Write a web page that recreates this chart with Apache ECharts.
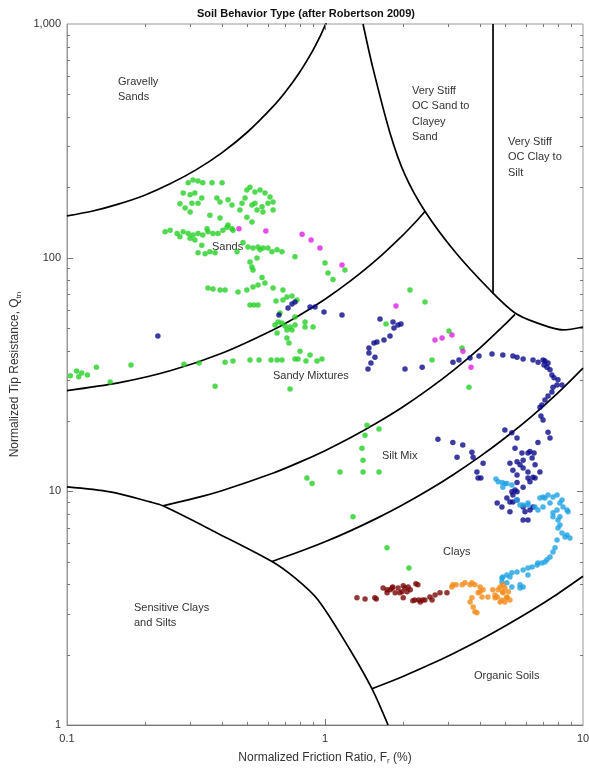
<!DOCTYPE html>
<html>
<head>
<meta charset="utf-8">
<script src="https://cdn.jsdelivr.net/npm/echarts@6/dist/echarts.min.js"></script>
<style>
  html, body { margin: 0; padding: 0; background: #fff; }
  #chart { width: 589px; height: 769px; }
</style>
</head>
<body>
<div id="chart"></div>
<script>
// tick marks (log axes)
const xTicks = [0.2, 0.3, 0.4, 0.5, 0.6, 0.7, 0.8, 0.9, 1, 2, 3, 4, 5, 6, 7, 8, 9];
const yTicks = [2, 3, 4, 5, 6, 7, 8, 9, 10, 20, 30, 40, 50, 60, 70, 80, 90, 100, 200, 300, 400, 500, 600, 700, 800, 900];

// zone boundaries [Fr, Qtn]
const bGravelly = [[0.1, 150.9], [0.126, 158.4], [0.158, 169.5], [0.2, 185.1], [0.251, 207], [0.316, 237.5], [0.398, 281], [0.501, 345], [0.631, 445], [0.708, 518], [0.794, 617], [0.891, 760], [0.955, 880], [1.0, 984], [1.012, 1013]];
const bSands = [[0.1, 27.0], [0.158, 29.1], [0.251, 32.8], [0.398, 39.0], [0.631, 49.2], [0.794, 56.6], [1.0, 66.4], [1.259, 79.7], [1.585, 98.0], [1.995, 124.3], [2.239, 141.8], [2.44, 157.7]];
const bSandyMix = [[0.2355, 8.67], [0.316, 9.37], [0.398, 10.06], [0.631, 11.98], [0.794, 13.3], [1.0, 14.93], [1.259, 16.98], [1.585, 19.59], [1.995, 22.9], [2.512, 27.3], [3.162, 33.1], [3.981, 41.0], [5.01, 52.1], [5.45, 57.2]];
const bSiltMix = [[0.623, 5.01], [0.794, 5.51], [1.0, 6.08], [1.259, 6.79], [1.585, 7.66], [1.995, 8.74], [2.512, 10.1], [3.162, 11.84], [3.981, 14.07], [5.01, 17.0], [6.31, 20.9], [7.94, 26.2], [10, 33.7]];
const bOrganic = [[1.52, 1.43], [1.995, 1.61], [2.512, 1.80], [3.162, 2.03], [3.981, 2.31], [5.01, 2.66], [6.31, 3.09], [7.94, 3.63], [10, 4.33]];
const bSensitive = [[0.1, 10.44], [0.147, 9.94], [0.21, 9.01], [0.2355, 8.67], [0.3815, 6.64], [0.623, 5.01], [0.765, 4.26], [0.94, 3.43], [1.25, 2.10], [1.52, 1.43], [1.755, 1.0]];
const bStiff = [[1.404, 1000], [1.53, 655], [1.786, 342], [2.042, 226], [2.44, 158], [3.19, 106], [4.36, 72.7], [5.45, 58.0], [6.63, 52.6], [8.36, 49.1], [10, 50.5]];
const bStiffSplit = [[4.48, 1000], [4.48, 70]];

// measured points [Fr, Qtn]
const greenPts = [[0.295,209],[0.308,215],[0.322,213],[0.336,209],[0.365,209],[0.399,209],[0.282,189],[0.300,186],[0.313,189],[0.333,180],[0.322,171],[0.305,171],[0.274,170],[0.287,163],[0.300,157],[0.381,180],[0.392,173],[0.421,177],[0.436,168],[0.468,160],[0.358,152],[0.392,148],[0.421,138],[0.440,131],[0.512,200],[0.498,195],[0.490,180],[0.535,191],[0.560,195],[0.585,189],[0.612,182],[0.629,173],[0.601,171],[0.570,165],[0.535,171],[0.521,168],[0.545,160],[0.575,157],[0.629,160],[0.477,171],[0.498,149],[0.521,142],[0.240,129],[0.251,131],[0.267,127],[0.282,129],[0.295,127],[0.308,125],[0.322,127],[0.336,125],[0.352,129],[0.368,127],[0.385,127],[0.402,131],[0.417,135],[0.436,133],[0.313,119],[0.333,113],[0.349,133],[0.274,123],[0.300,121],[0.322,105],[0.343,104],[0.358,106],[0.375,105],[0.456,106],[0.481,116],[0.503,111],[0.526,110],[0.550,111],[0.575,110],[0.560,108],[0.601,110],[0.623,106],[0.652,108],[0.681,106],[0.545,99.7],[0.512,95.8],[0.521,91.2],[0.526,88.6],[0.570,82.2],[0.585,78.0],[0.550,76.4],[0.526,74.9],[0.498,72.7],[0.460,71.3],[0.410,72.7],[0.392,72.7],[0.368,73.4],[0.352,74.1],[0.629,74.1],[0.687,72.7],[0.745,68.5],[0.765,101],[1.0,94.9],[1.027,85.9],[1.074,80.6],[0.512,62.7],[0.530,62.7],[0.550,62.7],[0.646,65.2],[0.687,65.9],[0.669,58.0],[0.658,53.0],[0.640,51.5],[0.681,52.5],[0.700,51.0],[0.732,50.5],[0.765,51.5],[0.652,47.6],[0.712,49.0],[0.745,49.0],[0.837,53.0],[0.837,50.5],[0.899,50.5],[0.712,45.3],[0.725,43.1],[0.712,67.8],[0.779,65.9],[0.765,55.7],[0.103,31.2],[0.109,32.7],[0.111,30.9],[0.114,32.1],[0.120,31.5],[0.130,34.0],[0.147,29.4],[0.177,34.7],[0.284,35.0],[0.325,35.4],[0.410,35.7],[0.440,36.1],[0.512,36.5],[0.555,36.5],[0.618,36.5],[0.652,36.5],[0.681,36.5],[0.765,36.8],[0.786,36.8],[0.844,36.1],[0.875,38.3],[0.931,36.1],[0.973,36.8],[0.800,39.8],[0.732,27.4],[0.375,28.2],[2.135,72.7],[2.441,64.6],[1.724,52.0],[3.024,48.5],[3.397,41.1],[2.600,36.5],[3.615,27.9],[1.455,19.2],[1.429,17.4],[1.619,18.5],[1.391,15.3],[1.404,13.6],[1.143,12.1],[1.404,12.1],[1.619,12.1],[1.284,7.78],[0.851,11.4],[0.891,10.8],[1.739,5.73],[2.115,4.70],[1.195,88.6]];
const magentaPts = [[0.464,133],[0.590,130],[0.815,126],[0.883,119],[0.956,110],[1.164,93.0],[1.884,62.1],[2.669,44.4],[2.842,45.3],[3.105,46.7],[3.425,39.8],[3.681,34.0]];
const navyPts = [[0.225,46.2],[0.663,56.8],[0.719,60.9],[0.745,63.3],[0.765,64.6],[0.875,61.5],[0.915,61.5],[0.991,58.5],[1.164,56.8],[1.634,54.6],[1.835,53.0],[1.918,51.5],[1.970,52.0],[1.851,50.0],[1.786,46.2],[1.693,44.4],[1.590,43.6],[1.548,43.1],[1.480,41.1],[1.480,39.1],[1.562,37.5],[1.507,35.4],[1.468,33.4],[2.042,33.4],[2.380,34.0],[3.133,35.7],[3.306,36.5],[3.648,37.2],[3.953,37.9],[4.44,38.7],[4.89,38.3],[5.35,37.9],[5.55,37.5],[5.86,36.8],[6.40,36.5],[6.70,35.7],[7.00,36.5],[7.12,36.1],[7.32,35.4],[7.06,34.7],[7.25,34.0],[7.45,33.1],[7.58,31.5],[7.72,30.6],[8.00,30.0],[8.29,28.5],[7.93,28.5],[7.65,27.9],[7.58,26.6],[7.32,25.6],[7.12,24.6],[6.93,23.4],[6.81,22.9],[6.87,21.0],[7.00,20.2],[7.32,17.9],[7.45,16.9],[6.69,16.2],[5.30,17.8],[4.98,18.3],[5.55,16.9],[5.45,15.3],[5.80,14.6],[6.12,14.6],[6.23,14.8],[6.46,14.6],[6.35,13.9],[5.86,13.6],[5.55,13.4],[5.70,13.0],[5.86,12.6],[6.12,12.1],[6.52,13.0],[6.81,12.1],[5.21,13.2],[5.35,12.3],[5.55,11.75],[6.12,11.4],[6.40,11.5],[6.52,11.4],[6.23,11.0],[5.55,10.9],[5.86,10.4],[5.55,9.95],[5.45,10.14],[5.30,9.95],[5.35,9.65],[5.07,9.37],[5.21,9.01],[5.35,9.01],[5.55,9.19],[5.86,8.58],[4.65,8.92],[4.85,8.58],[5.21,8.17],[5.96,8.17],[6.23,8.33],[6.40,8.58],[5.86,7.54],[6.12,7.54],[2.74,16.7],[3.13,16.2],[3.42,15.8],[3.25,14.0],[3.71,14.7],[3.75,14.0],[4.10,13.2],[3.88,12.1],[3.92,11.4],[4.02,11.4]];
const lightBluePts = [[4.60,11.3],[4.86,10.9],[5.07,10.8],[5.30,10.65],[4.69,11.0],[4.98,10.8],[4.89,10.4],[5.55,9.19],[5.70,8.75],[5.86,8.75],[6.12,8.75],[6.52,8.58],[6.81,9.37],[7.00,9.46],[7.32,9.65],[7.65,9.46],[7.93,9.65],[8.29,9.19],[7.45,8.92],[8.37,8.58],[8.67,8.33],[7.93,8.33],[7.65,8.09],[8.14,7.78],[8.00,7.54],[8.14,7.18],[7.00,8.58],[6.69,8.33],[6.12,8.92],[7.12,9.37],[8.14,8.92],[8.75,8.17],[7.65,7.78],[8.29,6.64],[8.52,6.38],[8.90,6.32],[7.93,6.19],[7.79,5.73],[7.65,5.50],[7.45,5.24],[7.25,5.09],[6.93,4.94],[6.64,4.84],[6.35,4.75],[6.12,4.70],[5.86,4.61],[5.55,4.52],[5.30,4.48],[5.07,4.39],[4.89,4.30],[4.85,4.09],[5.07,4.06],[5.30,3.90],[5.70,3.98],[5.86,3.90],[8.00,6.97],[8.67,6.51],[7.12,4.99],[6.69,4.94],[5.21,4.30],[4.85,4.26],[5.70,3.86],[6.12,4.39]];
const orangePts = [[3.10,3.90],[3.22,3.98],[3.40,3.98],[3.65,3.98],[3.81,3.98],[3.99,3.90],[4.10,3.79],[3.92,3.68],[4.06,3.53],[3.65,3.36],[3.75,3.20],[3.81,3.05],[3.88,3.02],[4.28,3.53],[4.56,3.60],[4.69,3.79],[4.77,3.90],[4.89,3.72],[5.07,3.53],[5.21,3.43],[4.98,3.36],[4.77,3.36],[4.56,3.50],[3.13,3.98],[3.49,4.06],[3.71,4.06],[3.99,3.72],[3.71,3.50],[4.89,3.98],[4.98,3.86],[5.14,3.72],[4.89,3.68],[4.65,3.53],[5.07,3.50],[4.85,3.43],[4.47,3.79]];
const darkRedPts = [[1.33,3.50],[1.43,3.46],[1.56,3.50],[1.68,3.86],[1.79,3.79],[1.83,3.90],[1.92,3.86],[2.01,3.94],[2.10,3.90],[2.29,3.98],[1.95,3.68],[2.08,3.72],[2.23,3.43],[2.34,3.36],[2.44,3.43],[2.55,3.53],[2.67,3.60],[2.79,3.68],[2.97,3.68],[1.74,3.68],[1.58,3.46],[1.74,3.79],[1.82,3.86],[2.04,3.86],[2.14,3.79],[1.99,3.72],[1.87,3.68],[2.25,4.02],[2.01,3.50],[2.19,3.40],[2.31,3.43],[2.39,3.43],[2.60,3.43]];

const FONT = '"Liberation Sans", Arial, Helvetica, sans-serif';

function boundary(data) {
    return { type: 'line', data: data, symbol: 'none', smooth: 0.3, silent: true, z: 2,
        lineStyle: { color: '#000', width: 1.7 } };
}
function points(data, color) {
    return { type: 'scatter', data: data, symbol: 'circle', symbolSize: 5.5, silent: true, z: 3,
        itemStyle: { color: color } };
}
function zoneText(text, left, top) {
    return { type: 'text', left: left, top: top, silent: true,
        style: { text: text, fill: '#333', fontSize: 11, fontFamily: FONT, lineHeight: 15.5 } };
}

var chart = echarts.init(document.getElementById('chart'));

chart.setOption({
    animation: false,
    backgroundColor: '#fff',
    grid: { left: 67, right: 6, top: 24, bottom: 44, containLabel: false, outerBoundsMode: 'none',
        show: true, borderColor: '#999', borderWidth: 1 },
    xAxis: {
        type: 'log', logBase: 10, min: 0.1, max: 10,
        axisLine: { show: true, lineStyle: { color: '#777' } },
        axisTick: { show: false }, splitLine: { show: false },
        axisLabel: { fontSize: 11, color: '#333', fontFamily: FONT, margin: 8 },
        name: 'Normalized Friction Ratio, F{sub|r} (%)',
        nameLocation: 'middle', nameGap: 25,
        nameTextStyle: { fontSize: 12, color: '#333', fontFamily: FONT,
            rich: { sub: { fontSize: 8, fontFamily: FONT, color: '#333', padding: [7, 0, 0, 0] } } }
    },
    yAxis: {
        type: 'log', logBase: 10, min: 1, max: 1000,
        axisLine: { show: true, lineStyle: { color: '#999' } },
        axisTick: { show: false }, splitLine: { show: false },
        axisLabel: { fontSize: 11, color: '#333', fontFamily: FONT, margin: 6,
            formatter: function (v) { return v >= 1000 ? '1,000' : String(v); } },
        name: 'Normalized Tip Resistance, Q{sub|tn}',
        nameLocation: 'middle', nameGap: 44,
        nameTextStyle: { fontSize: 12, color: '#333', fontFamily: FONT,
            rich: { sub: { fontSize: 8, fontFamily: FONT, color: '#333', padding: [7, 0, 0, 0] } } }
    },
    graphic: [
        { type: 'text', left: 197, top: 8, silent: true,
          style: { text: 'Soil Behavior Type (after Robertson 2009)', fill: '#111', fontSize: 11, fontWeight: 'bold', fontFamily: FONT } },
        zoneText('Gravelly\nSands', 118, 74),
        zoneText('Very Stiff\nOC Sand to\nClayey\nSand', 412, 83),
        zoneText('Very Stiff\nOC Clay to\nSilt', 508, 134),
        zoneText('Sands', 212, 239),
        zoneText('Sandy Mixtures', 273, 368),
        zoneText('Silt Mix', 382, 448),
        zoneText('Clays', 443, 544),
        zoneText('Sensitive Clays\nand Silts', 134, 600),
        zoneText('Organic Soils', 474, 668)
    ],
    series: [
        boundary(bGravelly),
        boundary(bSands),
        boundary(bSandyMix),
        boundary(bSiltMix),
        boundary(bOrganic),
        boundary(bSensitive),
        boundary(bStiff),
        Object.assign(boundary(bStiffSplit), { smooth: false }),
        points(greenPts, '#26d126'),
        points(magentaPts, '#e020e0'),
        points(navyPts, '#0a0a8c'),
        points(lightBluePts, '#1ea2e4'),
        points(orangePts, '#f58a18'),
        points(darkRedPts, '#7a0606'),
        {
            // minor and major ticks, drawn inside on all four sides
            type: 'custom', silent: true, z: 4,
            data: xTicks.map(v => [v, 1]).concat(yTicks.map(v => [0.1, v])),
            renderItem: function (params, api) {
                const cs = params.coordSys;
                const x = api.value(0), y = api.value(1);
                const isX = y === 1;
                const v = isX ? x : y;
                const lg = Math.log10(v);
                const len = Math.abs(lg - Math.round(lg)) < 1e-6 ? 6 : 3;
                const style = { stroke: '#777', lineWidth: 1 };
                if (isX) {
                    const px = Math.round(api.coord([x, 1])[0]) + 0.5;
                    return { type: 'group', children: [
                        { type: 'line', shape: { x1: px, y1: cs.y + cs.height, x2: px, y2: cs.y + cs.height - len }, style: style },
                        { type: 'line', shape: { x1: px, y1: cs.y, x2: px, y2: cs.y + len }, style: style }
                    ] };
                }
                const py = Math.round(api.coord([0.1, y])[1]) + 0.5;
                return { type: 'group', children: [
                    { type: 'line', shape: { x1: cs.x, y1: py, x2: cs.x + len, y2: py }, style: style },
                    { type: 'line', shape: { x1: cs.x + cs.width, y1: py, x2: cs.x + cs.width - len, y2: py }, style: style }
                ] };
            }
        }
    ]
});
</script>
</body>
</html>
